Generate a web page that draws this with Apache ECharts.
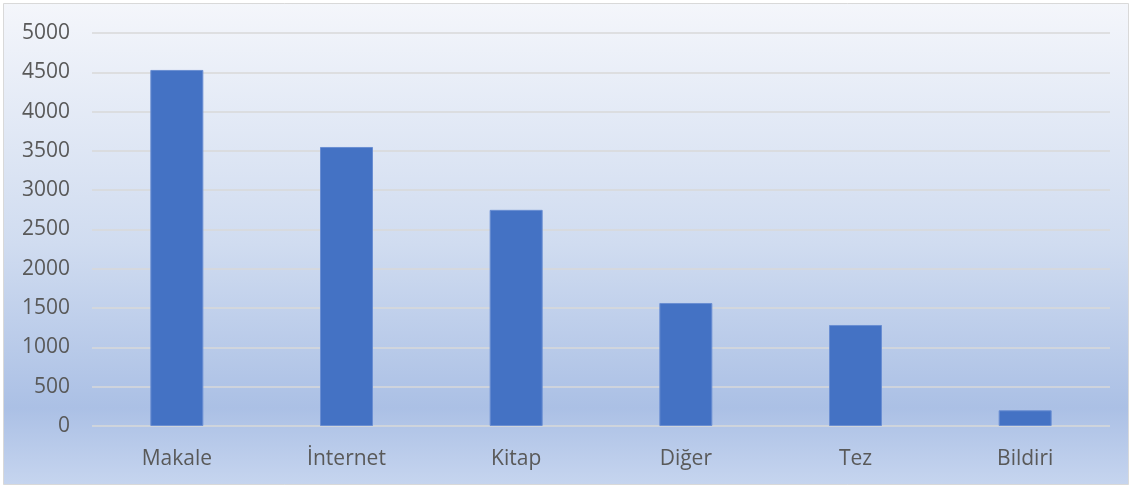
<!DOCTYPE html>
<html>
<head>
<meta charset="utf-8">
<script src="https://cdn.jsdelivr.net/npm/echarts@6/dist/echarts.min.js"></script>
<style>
  html, body { margin: 0; padding: 0; background: #fff; }
  #chart { width: 1132px; height: 488px; }
</style>
</head>
<body>
<div id="chart"></div>
<script>
const categories = ['Makale', 'İnternet', 'Kitap', 'Diğer', 'Tez', 'Bildiri'];
const counts = [4530, 3550, 2750, 1565, 1285, 200];
const yTicks = { min: 0, max: 5000, interval: 500 };

const chart = echarts.init(document.getElementById('chart'), null, { renderer: 'canvas' });

const textColor = '#595959';
const font = '"Open Sans", "Liberation Sans", sans-serif';

chart.setOption({
    animation: false,
    backgroundColor: '#ffffff',
    graphic: [
        {
            type: 'rect',
            z: -10,
            silent: true,
            shape: { x: 3.5, y: 3.5, width: 1125, height: 481 },
            style: {
                fill: new echarts.graphic.LinearGradient(0, 0, 0, 1, [
                    { offset: 0, color: '#f4f6fb' },
                    { offset: 0.5, color: '#d0dcf0' },
                    { offset: 0.84, color: '#abc0e5' },
                    { offset: 1, color: '#c6d5ef' },
                ]),
                stroke: '#d9d9d9',
                lineWidth: 1,
            },
        },
    ],
    grid: {
        left: 92,
        right: 22,
        top: 33,
        bottom: 62,
    },
    xAxis: {
        type: 'category',
        data: categories,
        axisLine: { show: false },
        axisTick: { show: false },
        axisLabel: {
            color: textColor,
            fontFamily: font,
            fontSize: 21,
            margin: 23,
        },
    },
    yAxis: {
        type: 'value',
        min: yTicks.min,
        max: yTicks.max,
        interval: yTicks.interval,
        axisLine: { show: false },
        axisTick: { show: false },
        axisLabel: {
            color: textColor,
            fontFamily: font,
            fontSize: 21,
            margin: 22,
            formatter: (v) => String(v),
        },
        splitLine: { lineStyle: { color: '#d9d9d9', width: 1.5 } },
    },
    series: [
        {
            type: 'bar',
            data: counts,
            barWidth: 53,
            itemStyle: {
                color: '#4472c4',
                borderColor: '#6a8ed2',
                borderWidth: 1,
            },
        },
    ],
});
</script>
</body>
</html>
